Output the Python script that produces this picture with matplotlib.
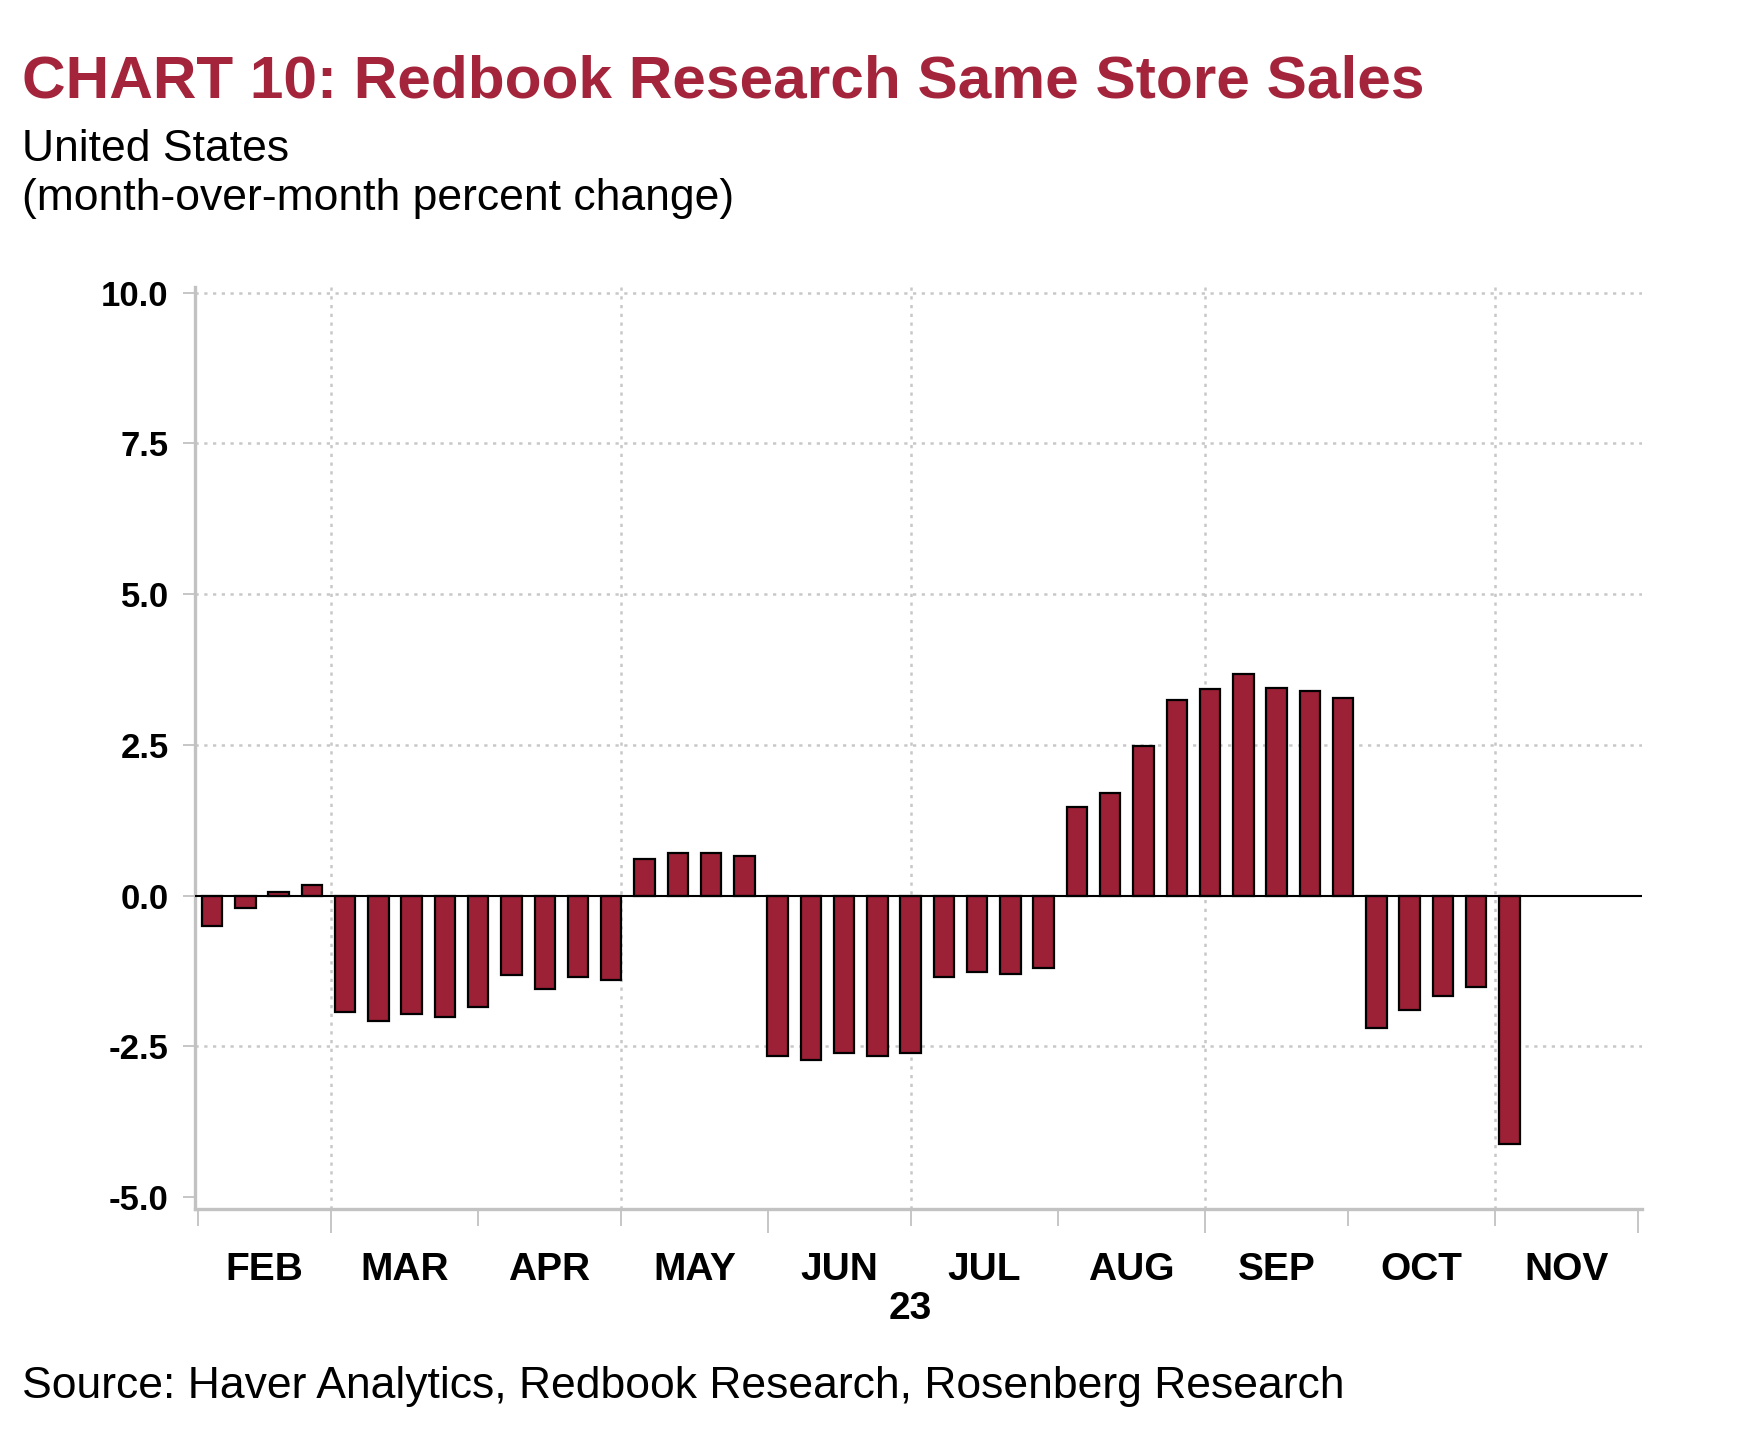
import datetime as dt
import matplotlib
matplotlib.use("Agg")
import matplotlib.pyplot as plt
import matplotlib.dates as mdates
from matplotlib.transforms import blended_transform_factory

plt.rcParams['font.family'] = ['Liberation Sans', 'DejaVu Sans']

# weekly Redbook readings (week ending Saturday), m/m % change
week_end = [
    "2023-02-04", "2023-02-11", "2023-02-18", "2023-02-25",
    "2023-03-04", "2023-03-11", "2023-03-18", "2023-03-25", "2023-04-01",
    "2023-04-08", "2023-04-15", "2023-04-22", "2023-04-29",
    "2023-05-06", "2023-05-13", "2023-05-20", "2023-05-27",
    "2023-06-03", "2023-06-10", "2023-06-17", "2023-06-24", "2023-07-01",
    "2023-07-08", "2023-07-15", "2023-07-22", "2023-07-29",
    "2023-08-05", "2023-08-12", "2023-08-19", "2023-08-26", "2023-09-02",
    "2023-09-09", "2023-09-16", "2023-09-23", "2023-09-30",
    "2023-10-07", "2023-10-14", "2023-10-21", "2023-10-28",
    "2023-11-04",
]
mom_change = [
    -0.50, -0.20, 0.05, 0.17,
    -1.93, -2.08, -1.97, -2.01, -1.85,
    -1.32, -1.55, -1.36, -1.40,
    0.60, 0.70, 0.70, 0.66,
    -2.66, -2.73, -2.62, -2.66, -2.62,
    -1.36, -1.27, -1.31, -1.20,
    1.47, 1.70, 2.48, 3.25, 3.43,
    3.67, 3.44, 3.40, 3.28,
    -2.20, -1.90, -1.66, -1.51,
    -4.13,
]
month_names = ["FEB", "MAR", "APR", "MAY", "JUN", "JUL", "AUG", "SEP", "OCT", "NOV"]
y_ticks = [-5.0, -2.5, 0.0, 2.5, 5.0, 7.5, 10.0]

RED = '#9c2036'
TITLE_RED = '#a3243b'
GRID = '#c8c8c8'
AXIS_GRAY = '#c2c2c2'

W, H = 1742, 1436
fig = plt.figure(figsize=(W / 100, H / 100), dpi=100)
ax = fig.add_axes([194.5 / W, 1 - 1209 / H, (1642 - 194.5) / W, (1209 - 286.6) / H])

dates = [dt.datetime.strptime(d, "%Y-%m-%d") for d in week_end]
xs = mdates.date2num(dates)

month_starts = [dt.datetime(2023, m, 1) for m in range(2, 13)]
ms_num = mdates.date2num(month_starts)

# dotted grid, vertical lines every second month
dots = (0, (1.3, 2.2))
for y in [10.0, 7.5, 5.0, 2.5, -2.5]:
    ax.axhline(y, color=GRID, lw=1.8, ls=dots, zorder=1)
for m in [3, 5, 7, 9, 11]:
    ax.axvline(mdates.date2num(dt.datetime(2023, m, 1)), color=GRID, lw=1.8, ls=dots, zorder=1)

ax.bar(xs, mom_change, width=4.3, color=RED, edgecolor='black', linewidth=1.6, zorder=3)
ax.axhline(0, color='black', lw=1.5, zorder=4)

ax.set_xlim(ms_num[0] - 0.7, ms_num[-1] + 0.9)
ax.set_ylim(-5.2, 10.1)

for s in ['top', 'right']:
    ax.spines[s].set_visible(False)
for s in ['left', 'bottom']:
    ax.spines[s].set_color(AXIS_GRAY)
    ax.spines[s].set_linewidth(2.4)

ax.set_yticks(y_ticks)
ax.set_yticklabels([f"{v:.1f}" for v in y_ticks], fontsize=25, fontweight='bold')
ax.tick_params(axis='y', length=8.6, width=1.3, color=AXIS_GRAY, pad=10)

ax.set_xticks(ms_num)
ax.set_xticklabels([])
ax.tick_params(axis='x', length=12, width=1.3, color=AXIS_GRAY)
for t, d in zip(ax.xaxis.get_major_ticks(), month_starts):
    if d.month in (3, 6, 9, 12):
        t.tick1line.set_markersize(17)

trans = blended_transform_factory(ax.transData, fig.transFigure)
for i, name in enumerate(month_names):
    mid = (ms_num[i] + ms_num[i + 1]) / 2
    ax.text(mid, 1 - 1280 / H, name, transform=trans, ha='center', va='baseline',
            fontsize=28, fontweight='bold')
ax.text(mdates.date2num(dt.datetime(2023, 7, 1)), 1 - 1319 / H, "23", transform=trans,
        ha='center', va='baseline', fontsize=28, fontweight='bold')

fig.text(22 / W, 1 - 98 / H, "CHART 10: Redbook Research Same Store Sales",
         fontsize=43.5, fontweight='bold', color=TITLE_RED, va='baseline')
fig.text(22 / W, 1 - 161 / H, "United States", fontsize=32, va='baseline')
fig.text(22 / W, 1 - 210 / H, "(month-over-month percent change)", fontsize=32, va='baseline')
fig.text(22 / W, 1 - 1398 / H, "Source: Haver Analytics, Redbook Research, Rosenberg Research",
         fontsize=32, va='baseline')

fig.savefig("out.png", dpi=100, facecolor='white')
